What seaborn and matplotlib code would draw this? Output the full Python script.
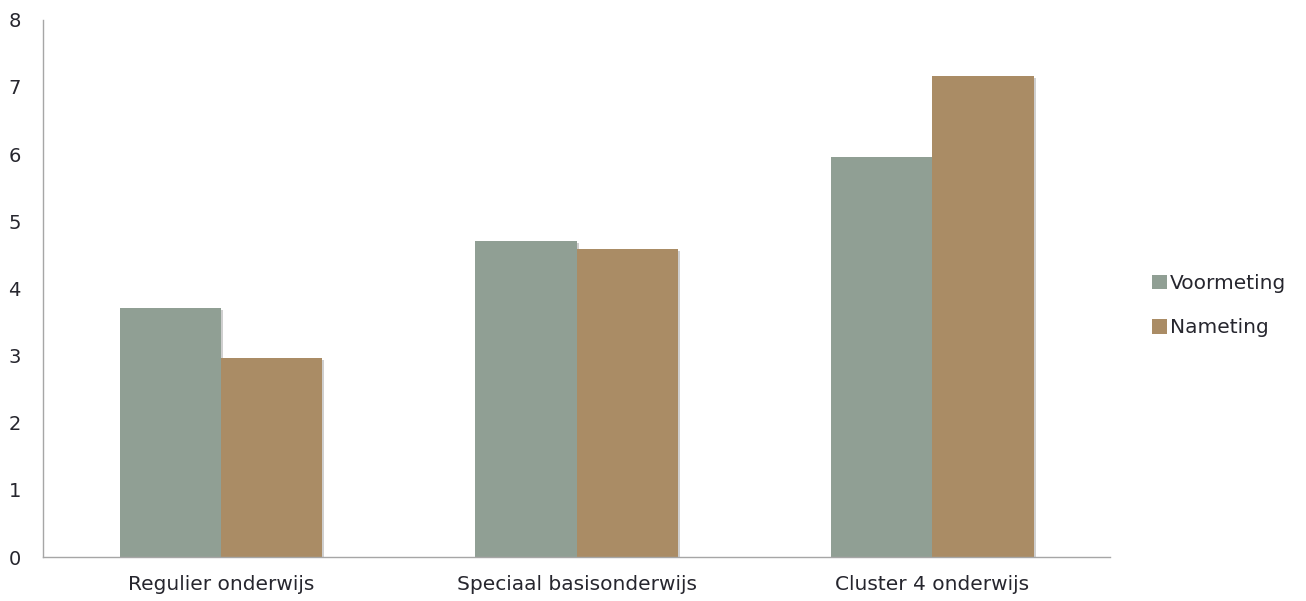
import matplotlib
matplotlib.use("Agg")
import matplotlib.pyplot as plt
import matplotlib.patheffects as pe
import seaborn as sns
import pandas as pd

categories = ["Regulier onderwijs", "Speciaal basisonderwijs", "Cluster 4 onderwijs"]
series = ["Voormeting", "Nameting"]
voormeting = [3.71, 4.71, 5.96]
nameting = [2.96, 4.59, 7.17]
y_ticks = [0, 1, 2, 3, 4, 5, 6, 7, 8]

colors = {"Voormeting": "#909F94", "Nameting": "#AA8C65"}
text_color = "#26262e"

df = pd.DataFrame({
    "categorie": categories * 2,
    "meting": [series[0]] * 3 + [series[1]] * 3,
    "waarde": voormeting + nameting,
})

sns.set_theme(style="white")
plt.rcParams["font.family"] = ["DejaVu Sans"]

fig = plt.figure(figsize=(13.06, 6.01), dpi=100)
ax = fig.add_axes([0.033, 0.073, 0.817, 0.894])

sns.barplot(data=df, x="categorie", y="waarde", hue="meting",
            palette=colors, width=0.57, gap=0, saturation=1,
            edgecolor="none", ax=ax, legend=True)

# subtle drop shadow on the bars
for bar in ax.patches:
    bar.set_path_effects([pe.SimplePatchShadow(offset=(1.5, -1.5), shadow_rgbFace="#777777", alpha=0.35),
                          pe.Normal()])

ax.set_ylim(0, 8)
ax.set_xlim(-0.5, 2.5)
ax.set_yticks(y_ticks)
ax.set_yticklabels([str(t) for t in y_ticks])
ax.set_xlabel("")
ax.set_ylabel("")
ax.tick_params(axis="both", length=0, colors=text_color)
ax.tick_params(axis="y", labelsize=14, pad=16)
ax.tick_params(axis="x", labelsize=14.5, pad=13)

for side in ["top", "right"]:
    ax.spines[side].set_visible(False)
for side in ["left", "bottom"]:
    ax.spines[side].set_color("#a6a6a6")
    ax.spines[side].set_linewidth(1.0)

handles, labels = ax.get_legend_handles_labels()
for h in handles:
    h.set_path_effects([])
ax.legend(handles, labels, loc="center left", bbox_to_anchor=(1.022, 0.468),
          frameon=False, fontsize=14.5, handlelength=0.75, handleheight=0.75,
          handletextpad=0.15, labelspacing=1.25, labelcolor=text_color)

fig.savefig("out.png", dpi=100)
